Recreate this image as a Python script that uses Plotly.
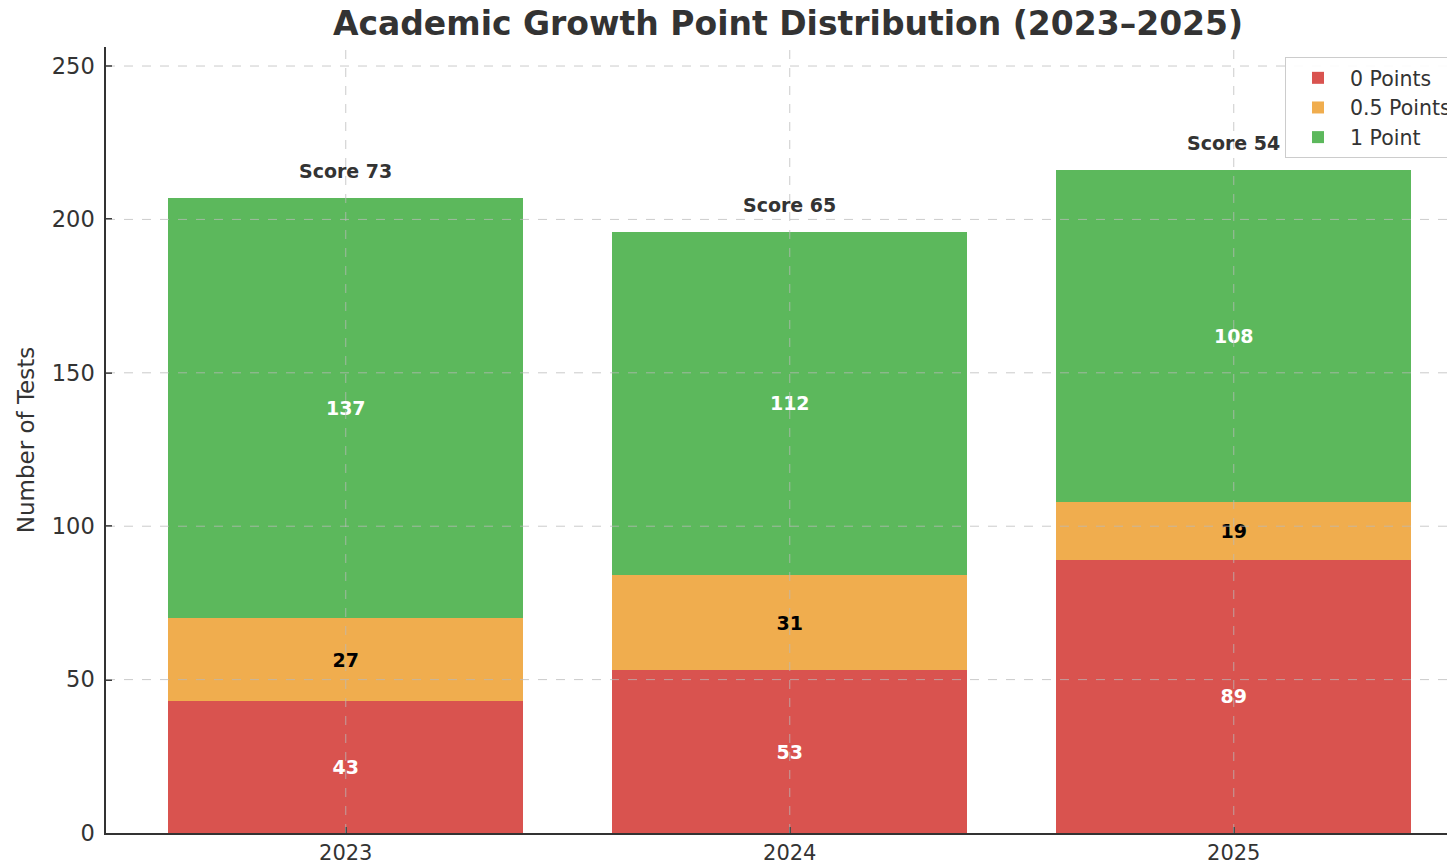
import plotly.graph_objects as go

years = ["2023", "2024", "2025"]
zero_points = [43, 53, 89]
half_points = [27, 31, 19]
one_point = [137, 112, 108]
scores = [73, 65, 54]
series_names = ["0 Points", "0.5 Points", "1 Point"]
series_colors = ["#d9534f", "#f0ad4e", "#5cb85c"]
label_colors = ["white", "black", "white"]
y_ticks = [0, 50, 100, 150, 200, 250]

FONT = "DejaVu Sans"
# page body adds an 8px offset; plot area placed to land at screen x 106..(clipped), y 47..833
L, T, B = 98, 39, 41
PW = 1455 - L
PH = 866 - T - B

fig = go.Figure()
for name, vals, col, lc in zip(series_names, [zero_points, half_points, one_point], series_colors, label_colors):
    fig.add_trace(go.Bar(
        x=years, y=vals, name=name, marker=dict(color=col, line=dict(width=0)),
        text=[str(v) for v in vals], textposition="inside", insidetextanchor="middle",
        textfont=dict(family=FONT, size=19, color=lc, weight="bold"),
        textangle=0,
    ))

totals = [a + b + c for a, b, c in zip(zero_points, half_points, one_point)]
for i, (tot, sc) in enumerate(zip(totals, scores)):
    fig.add_annotation(x=i, xref="x", y=tot, yref="y", text=f"Score {sc}", showarrow=False,
                       yanchor="middle", yshift=27,
                       font=dict(family=FONT, size=19, color="#333333", weight="bold"))

grid_col = "rgba(185,185,185,0.75)"
for t in y_ticks[1:]:
    fig.add_shape(type="line", xref="paper", yref="y", x0=0, x1=1, y0=t, y1=t,
                  line=dict(color=grid_col, width=1, dash="dash"), layer="above")
for i in range(len(years)):
    fig.add_shape(type="line", xref="x", yref="paper", x0=i, x1=i, y0=0, y1=1,
                  line=dict(color=grid_col, width=1, dash="dash"), layer="above")

fig.update_layout(
    width=1455, height=866,
    margin=dict(l=L, r=0, t=T, b=B),
    paper_bgcolor="white", plot_bgcolor="white",
    barmode="stack", bargap=0.2,
    font=dict(family=FONT, color="#333333"),
    title=dict(text="<b>Academic Growth Point Distribution (2023–2025)</b>",
               x=(788 - 106) / PW, xref="paper", xanchor="center",
               y=1 - 15 / 866, yref="container", yanchor="middle",
               font=dict(family=FONT, size=33, color="#333333")),
    legend=dict(x=(1285 - 106) / PW, y=(833 - 57) / PH, xanchor="left", yanchor="top",
                bgcolor="rgba(255,255,255,0.9)", bordercolor="#cccccc", borderwidth=1,
                font=dict(family=FONT, size=20.5, color="#333333"), traceorder="normal",
                tracegroupgap=0, itemwidth=54),
    showlegend=True,
)
fig.update_xaxes(type="category", range=[-0.54, -0.54 + PW / 444.0], showgrid=False, showline=True,
                 linecolor="#333333", automargin=False,
                 linewidth=1.5, ticks="inside", ticklen=6, tickcolor="#333333", tickwidth=1.5,
                 tickfont=dict(family=FONT, size=21, color="#333333"), zeroline=False)
fig.update_yaxes(range=[0, 256.2], tickvals=y_ticks, showgrid=False, showline=True,
                 linecolor="#333333", linewidth=1.5, ticks="inside", ticklen=6,
                 tickcolor="#333333", tickwidth=1.5, zeroline=False, automargin=False,
                 ticklabelstandoff=5,
                 tickfont=dict(family=FONT, size=22.5, color="#333333"),
                 title=dict(text="Number of Tests", standoff=11,
                            font=dict(family=FONT, size=23, color="#333333")))

fig.write_html("out.html")
